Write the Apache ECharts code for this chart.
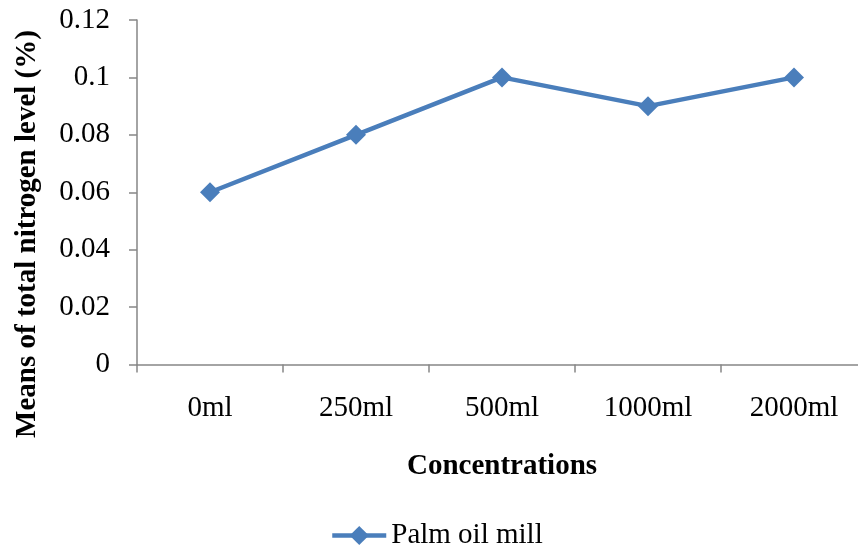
<!DOCTYPE html>
<html>
<head>
<meta charset="utf-8">
<script src="https://cdn.jsdelivr.net/npm/echarts@6/dist/echarts.min.js"></script>
<style>html,body{margin:0;padding:0;background:#fff;}#c{width:858px;height:548px;}</style>
</head>
<body>
<div id="c"></div>
<script>
const categories = ['0ml', '250ml', '500ml', '1000ml', '2000ml'];
const palmOilMill = [0.06, 0.08, 0.1, 0.09, 0.1];
const yTicks = ['0', '0.02', '0.04', '0.06', '0.08', '0.1', '0.12'];
const seriesName = 'Palm oil mill';
const xTitle = 'Concentrations';
const yTitle = 'Means of total nitrogen level (%)';

const FONT = '"Liberation Serif", "Times New Roman", serif';
const AXIS = '#868686';
const BLUE = '#4a7ebb';

const chart = echarts.init(document.getElementById('c'), null, {renderer: 'canvas'});
chart.setOption({
  animation: false,
  backgroundColor: '#fff',
  grid: {left: 137, top: 20, width: 730, height: 344.5, containLabel: false, outerBoundsMode: 'none'},
  legend: {
    data: [seriesName],
    left: 325, top: 516,
    itemWidth: 54, itemHeight: 24, itemGap: 10,
    lineStyle: {width: 4.5},
    textStyle: {fontFamily: FONT, fontSize: 29, color: '#000'}
  },
  xAxis: {
    type: 'category',
    data: categories,
    boundaryGap: true,
    name: xTitle,
    nameLocation: 'middle',
    nameGap: 88,
    nameTextStyle: {fontFamily: FONT, fontSize: 29, fontWeight: 'bold', color: '#000'},
    axisLine: {lineStyle: {color: AXIS, width: 1.5}},
    axisTick: {show: true, length: 8, inside: false, alignWithLabel: false, lineStyle: {color: AXIS, width: 1.5}},
    axisLabel: {fontFamily: FONT, fontSize: 29, color: '#000', margin: 29, interval: 0}
  },
  yAxis: {
    type: 'value',
    min: 0, max: 0.12, interval: 0.02,
    splitLine: {show: false},
    axisLine: {show: true, lineStyle: {color: AXIS, width: 1.5}},
    axisTick: {show: true, length: 8, lineStyle: {color: AXIS, width: 1.5}},
    axisLabel: {
      fontFamily: FONT, fontSize: 29, color: '#000', margin: 27,
      formatter: function (v) { return yTicks[Math.round(v / 0.02)]; }
    }
  },
  graphic: [{
    type: 'text',
    x: 28, y: 234,
    rotation: Math.PI / 2,
    style: {
      text: yTitle,
      font: 'bold 29px ' + FONT,
      fill: '#000',
      align: 'center',
      verticalAlign: 'middle'
    }
  }],
  series: [{
    name: seriesName,
    type: 'line',
    data: palmOilMill,
    symbol: 'diamond',
    symbolSize: 20,
    itemStyle: {color: BLUE},
    lineStyle: {color: BLUE, width: 4.5}
  }]
});
</script>
</body>
</html>
